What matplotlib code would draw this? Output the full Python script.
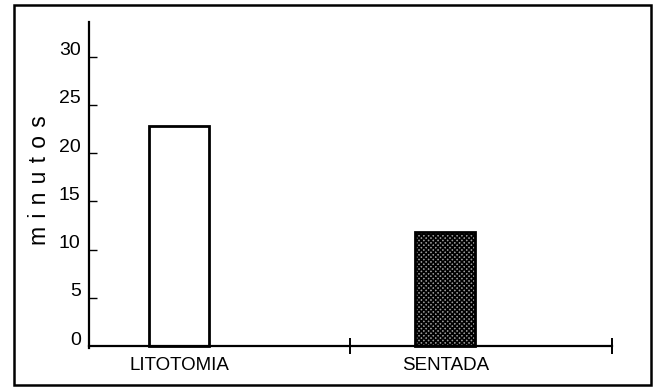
import matplotlib
matplotlib.use("Agg")
import matplotlib.pyplot as plt
import matplotlib.transforms as mtransforms
from matplotlib.patches import Rectangle

categories = ["LITOTOMIA", "SENTADA"]
minutes = [22.8, 11.8]
y_ticks = [0, 5, 10, 15, 20, 25, 30]

plt.rcParams["font.family"] = ["Liberation Sans", "DejaVu Sans"]
plt.rcParams["hatch.linewidth"] = 1.2


def main() -> None:
    fig = plt.figure(figsize=(6.55, 3.87), dpi=100)
    ax = fig.add_axes([89 / 655, 39 / 387, 523 / 655, 326 / 387])

    # bar centres inside each group (groups span 0-1 and 1-2)
    xpos = [0.344, 1.363]
    width = 0.23
    ax.bar(xpos[0], minutes[0], width=width, facecolor="white",
           edgecolor="black", linewidth=2)
    ax.bar(xpos[1], minutes[1], width=width, facecolor="#9a9a9a",
           edgecolor="black", hatch="xxxxxxx", linewidth=0)
    ax.bar(xpos[1], minutes[1], width=width, fill=False,
           edgecolor="black", linewidth=2)

    ax.set_xlim(0, 2)
    ax.set_ylim(-0.2, 33.6)
    for s in ["top", "right"]:
        ax.spines[s].set_visible(False)
    for s in ["left", "bottom"]:
        ax.spines[s].set_linewidth(1.6)
    ax.spines["bottom"].set_position(("data", 0))

    ax.set_yticks(y_ticks)
    ax.set_yticklabels([str(v) for v in y_ticks])
    ax.tick_params(axis="y", direction="in", length=6, width=1,
                   labelsize=14, pad=6)
    offset = mtransforms.ScaledTranslation(0, 8 / 100, fig.dpi_scale_trans)
    for lbl in ax.get_yticklabels():
        lbl.set_transform(lbl.get_transform() + offset)
    for t in ax.yaxis.get_major_ticks()[:1]:
        t.tick1line.set_visible(False)

    ax.set_xticks(xpos)
    ax.set_xticklabels(categories)
    ax.tick_params(axis="x", which="major", length=0, labelsize=13.5, pad=8)
    ax.set_xticks([1, 2], minor=True)
    ax.tick_params(axis="x", which="minor", direction="inout", length=11,
                   width=1.4)

    ax.set_ylabel("m \u200ai \u200an \u200au \u200at \u200ao \u200as",
                  fontsize=16.5)
    ax.yaxis.set_label_coords(-38 / 523, 0.515)

    fig.patches.append(Rectangle((14 / 655, 2 / 387), 637 / 655, 380 / 387,
                                 transform=fig.transFigure, fill=False,
                                 edgecolor="black", linewidth=1.8))

    fig.savefig("out.png", dpi=100)


if __name__ == "__main__":
    main()
